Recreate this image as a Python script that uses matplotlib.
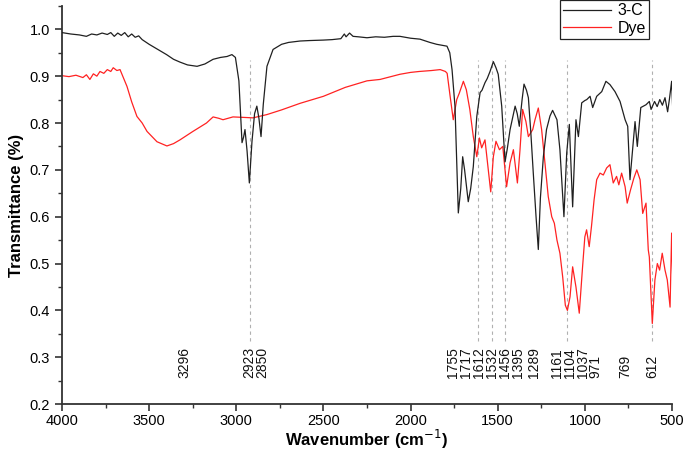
import matplotlib
matplotlib.use("Agg")
import matplotlib.pyplot as plt
from matplotlib.ticker import MultipleLocator, FormatStrFormatter

plt.rcParams['font.family'] = ['Liberation Sans', 'DejaVu Sans']

# 3-C spectrum (wavenumber, transmittance)
c3_wn = [4000, 3950, 3900, 3860, 3830, 3800, 3770, 3740, 3720, 3700, 3680, 3660,
         3640, 3620, 3600, 3580, 3560, 3540, 3500, 3450, 3400, 3360, 3323, 3280,
         3225, 3180, 3133, 3090, 3053, 3025, 3005, 2985, 2967, 2958, 2950, 2938,
         2925, 2910, 2895, 2882, 2870, 2858, 2845, 2824, 2789, 2740, 2700, 2634,
         2580, 2500, 2450, 2400, 2380, 2370, 2350, 2330, 2300, 2250, 2200, 2150,
         2100, 2061, 2000, 1946, 1889, 1850, 1791, 1775, 1762, 1745, 1726, 1712,
         1701, 1690, 1669, 1655, 1640, 1620, 1601, 1590, 1573, 1560, 1544, 1525,
         1510, 1497, 1477, 1458, 1445, 1429, 1400, 1388, 1376, 1360, 1349, 1335,
         1324, 1310, 1296, 1280, 1267, 1255, 1238, 1220, 1200, 1185, 1170, 1160,
         1143, 1120, 1104, 1089, 1070, 1051, 1037, 1018, 1000, 989, 970, 955,
         932, 903, 879, 856, 827, 798, 769, 754, 741, 726, 712, 699,
         679, 649, 630, 620, 600, 585, 570, 555, 540, 525, 515, 502, 496]
c3_t = [0.993, 0.990, 0.988, 0.985, 0.990, 0.988, 0.992, 0.989, 0.993, 0.985, 0.992, 0.987,
        0.993, 0.984, 0.990, 0.983, 0.986, 0.978, 0.968, 0.957, 0.946, 0.936, 0.930, 0.924,
        0.921, 0.926, 0.936, 0.940, 0.942, 0.946, 0.940, 0.890, 0.758, 0.770, 0.786, 0.740,
        0.672, 0.760, 0.820, 0.836, 0.810, 0.771, 0.840, 0.921, 0.957, 0.968, 0.972, 0.975,
        0.976, 0.977, 0.978, 0.980, 0.990, 0.984, 0.992, 0.985, 0.984, 0.982, 0.984, 0.983,
        0.985, 0.985, 0.981, 0.979, 0.972, 0.968, 0.964, 0.950, 0.914, 0.835, 0.608, 0.660,
        0.728, 0.700, 0.632, 0.660, 0.707, 0.814, 0.865, 0.870, 0.886, 0.895, 0.910, 0.931,
        0.918, 0.904, 0.836, 0.717, 0.745, 0.786, 0.836, 0.820, 0.793, 0.850, 0.883, 0.870,
        0.854, 0.780, 0.694, 0.600, 0.530, 0.640, 0.728, 0.786, 0.815, 0.827, 0.815, 0.807,
        0.743, 0.600, 0.736, 0.797, 0.621, 0.807, 0.771, 0.843, 0.848, 0.850, 0.857, 0.833,
        0.857, 0.867, 0.889, 0.882, 0.867, 0.846, 0.807, 0.793, 0.679, 0.743, 0.803, 0.750,
        0.833, 0.839, 0.846, 0.829, 0.846, 0.835, 0.850, 0.838, 0.854, 0.824, 0.850, 0.889, 0.833]

# Dye spectrum
dye_wn = [4000, 3960, 3920, 3880, 3860, 3840, 3820, 3800, 3782, 3760, 3740, 3720,
          3706, 3685, 3667, 3627, 3600, 3570, 3540, 3512, 3455, 3398, 3360, 3323,
          3249, 3171, 3133, 3100, 3076, 3019, 2960, 2904, 2824, 2740, 2634, 2500,
          2375, 2250, 2175, 2061, 2000, 1950, 1880, 1830, 1800, 1790, 1774, 1755,
          1735, 1720, 1697, 1680, 1660, 1640, 1620, 1605, 1592, 1573, 1554, 1540,
          1525, 1510, 1490, 1471, 1458, 1449, 1429, 1410, 1387, 1372, 1357, 1338,
          1324, 1299, 1286, 1267, 1248, 1229, 1210, 1190, 1175, 1160, 1143, 1127,
          1112, 1100, 1085, 1070, 1051, 1032, 1013, 1000, 990, 975, 962, 947,
          932, 913, 894, 875, 856, 837, 818, 805, 789, 769, 757, 738,
          719, 702, 683, 668, 649, 636, 630, 613, 598, 584, 571, 556,
          540, 527, 511, 502, 496]
dye_t = [0.901, 0.899, 0.902, 0.897, 0.903, 0.893, 0.905, 0.900, 0.910, 0.906, 0.914, 0.910,
         0.918, 0.912, 0.914, 0.878, 0.845, 0.814, 0.800, 0.782, 0.760, 0.751, 0.756, 0.764,
         0.782, 0.800, 0.813, 0.810, 0.807, 0.813, 0.812, 0.811, 0.818, 0.828, 0.842, 0.857,
         0.876, 0.890, 0.893, 0.904, 0.908, 0.910, 0.912, 0.914, 0.910, 0.906, 0.860, 0.807,
         0.850, 0.864, 0.889, 0.871, 0.829, 0.771, 0.728, 0.768, 0.747, 0.764, 0.700, 0.653,
         0.728, 0.761, 0.743, 0.750, 0.700, 0.664, 0.715, 0.743, 0.672, 0.743, 0.829, 0.803,
         0.771, 0.786, 0.807, 0.832, 0.786, 0.715, 0.643, 0.600, 0.586, 0.550, 0.522, 0.471,
         0.411, 0.400, 0.429, 0.493, 0.450, 0.394, 0.493, 0.557, 0.572, 0.536, 0.579, 0.636,
         0.679, 0.693, 0.689, 0.704, 0.711, 0.672, 0.686, 0.668, 0.693, 0.664, 0.629, 0.657,
         0.682, 0.700, 0.679, 0.607, 0.629, 0.529, 0.514, 0.372, 0.465, 0.500, 0.486, 0.522,
         0.486, 0.465, 0.407, 0.565, 0.471]

peak_labels = [3296, 2923, 2850, 1755, 1717, 1612, 1532, 1456, 1395, 1289,
               1161, 1104, 1037, 971, 769, 612]
marked_peaks = [2923, 1612, 1532, 1456, 1104, 612]

fig = plt.figure(figsize=(6.85, 4.53), dpi=100)
ax = fig.add_axes([0.0905, 0.108, 0.8905, 0.879])

for p in marked_peaks:
    ax.plot([p, p], [0.335, 0.935], color='#b0b0b0', lw=0.8,
            ls=(0, (3, 3)), zorder=1)

ax.plot(c3_wn, c3_t, color='#202020', lw=0.9, label='3-C', zorder=3)
ax.plot(dye_wn, dye_t, color='#ff2222', lw=0.9, label='Dye', zorder=2)

# spread crowded labels so they don't overlap
label_x = []
for p in peak_labels:
    x = p
    if label_x and label_x[-1] - x < 74:
        x = label_x[-1] - 74
    label_x.append(x)
for p, x in zip(peak_labels, label_x):
    ax.text(x, 0.255, str(p), rotation=90, ha='center', va='bottom',
            fontsize=10, color='#111111')

ax.set_xlim(4000, 500)
ax.set_ylim(0.2, 1.05)
ax.xaxis.set_major_locator(MultipleLocator(500))
ax.xaxis.set_minor_locator(MultipleLocator(250))
ax.yaxis.set_major_locator(MultipleLocator(0.1))
ax.yaxis.set_minor_locator(MultipleLocator(0.05))
ax.yaxis.set_major_formatter(FormatStrFormatter('%.1f'))
ax.set_yticks([0.2, 0.3, 0.4, 0.5, 0.6, 0.7, 0.8, 0.9, 1.0])

for s in ['top', 'right']:
    ax.spines[s].set_visible(False)
for s in ['left', 'bottom']:
    ax.spines[s].set_linewidth(1.3)
    ax.spines[s].set_color('#333333')
ax.tick_params(which='major', direction='out', length=5, width=1.2,
               labelsize=10.5, colors='#333333', labelcolor='black')
ax.tick_params(axis='x', which='major', pad=2)
ax.tick_params(which='minor', direction='out', length=3, width=1.0, colors='#333333')

ax.set_xlabel('Wavenumber (cm$^{-1}$)', fontsize=12, fontweight='bold', labelpad=0)
ax.set_ylabel('Transmittance (%)', fontsize=12, fontweight='bold', labelpad=4)

leg = ax.legend(loc='upper right', bbox_to_anchor=(649 / 685, 1.0),
                bbox_transform=fig.transFigure, fontsize=11.5, fancybox=False,
                framealpha=1, edgecolor='#222222', handlelength=3.0,
                borderpad=0.2, labelspacing=0.15, handletextpad=0.4,
                borderaxespad=0)
leg.get_frame().set_linewidth(0.9)

fig.savefig('out.png', dpi=100)
